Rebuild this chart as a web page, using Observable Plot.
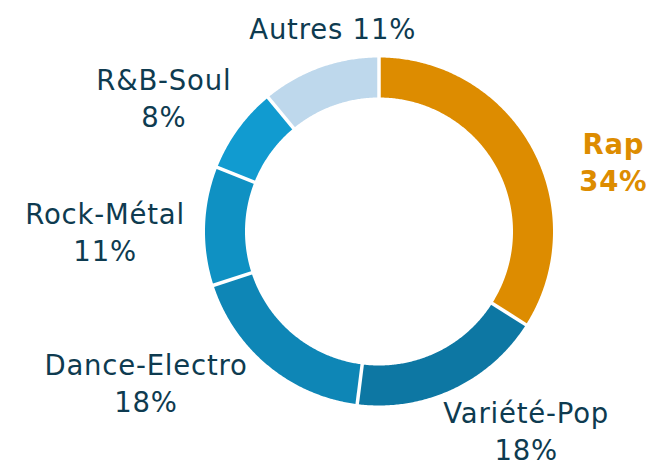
<!DOCTYPE html>
<html>
<head>
<meta charset="utf-8">
<script src="https://cdn.jsdelivr.net/npm/d3@7"></script>
<script src="https://cdn.jsdelivr.net/npm/@observablehq/plot@0.6"></script>
<style>
  html, body { margin: 0; padding: 0; background: #fff; }
  #chart svg { display: block; }
  #chart svg text { letter-spacing: 0.8px; }
</style>
</head>
<body>
<div id="chart"></div>
<script>
// ---- Data ----
const categories = ["Rap", "Variété-Pop", "Dance-Electro", "Rock-Métal", "R&B-Soul", "Autres"];
const shares = [34, 18, 18, 11, 8, 11];
const percentLabels = ["34%", "18%", "18%", "11%", "8%", "11%"];
const colors = ["#DD8C00", "#0D77A3", "#0E86B6", "#0F91C3", "#119BD0", "#BED8EC"];

// ---- Layout (pixels) ----
const W = 646, H = 465;
const cx = 378.5, cy = 231;
const rOut = 174, rIn = 134;
const rMid = (rOut + rIn) / 2;
const labelR = 240;
// per-label nudges from the mid-angle anchor point (x right, y down, px)
const labelNudge = {
  "Rap": [24, 45],
  "Variété-Pop": [45, -19],
  "Dance-Electro": [-80, -35],
  "Rock-Métal": [-34, 7],
  "R&B-Soul": [-21, 6],
  "Autres": [35, 22]
};

const total = d3.sum(shares);
const rad = Math.PI / 180;
let acc = 0;
const slices = categories.map((c, i) => {
  const a0 = acc / total * 360;
  acc += shares[i];
  const a1 = acc / total * 360;
  return {cat: c, share: shares[i], pct: percentLabels[i], a0, a1, mid: (a0 + a1) / 2};
});

// polar helper: angle clockwise from top, radius in px -> data units (y up)
const px = (a, r) => r * Math.sin(a * rad);
const py = (a, r) => r * Math.cos(a * rad);

// arc path samples for each slice
const arcPts = slices.flatMap(s => {
  const n = Math.max(2, Math.ceil((s.a1 - s.a0) / 0.5));
  return d3.range(n + 1).map(k => {
    const a = s.a0 + (s.a1 - s.a0) * k / n;
    return {cat: s.cat, x: px(a, rMid), y: py(a, rMid)};
  });
});

// white separators at slice boundaries
const seps = slices.map(s => ({
  x1: px(s.a0, rIn - 4), y1: py(s.a0, rIn - 4),
  x2: px(s.a0, rOut + 4), y2: py(s.a0, rOut + 4)
}));

const labels = slices.map(s => {
  const [dx, dy] = labelNudge[s.cat];
  const single = s.cat === "Autres";
  return {
    cat: s.cat,
    text: single ? `${s.cat} ${s.pct}` : `${s.cat}\n${s.pct}`,
    x: px(s.mid, labelR) + dx,
    y: py(s.mid, labelR) - dy
  };
});

const font = "'DejaVu Sans', sans-serif";
const chart = Plot.plot({
  width: W,
  height: H,
  margin: 0,
  x: {domain: [-cx, W - cx], axis: null},
  y: {domain: [-(H - cy), cy], axis: null},
  color: {domain: categories, range: colors},
  marks: [
    Plot.line(arcPts, {
      x: "x", y: "y", z: "cat", stroke: "cat",
      strokeWidth: rOut - rIn, strokeLinecap: "butt", strokeLinejoin: "round"
    }),
    Plot.link(seps, {
      x1: "x1", y1: "y1", x2: "x2", y2: "y2",
      stroke: "white", strokeWidth: 3.5, strokeLinecap: "butt"
    }),
    Plot.text(labels.filter(d => d.cat !== "Rap"), {
      x: "x", y: "y", text: "text",
      fill: "#0E3B50", fontSize: 27.5, lineHeight: 1.34,
      fontFamily: font, fontWeight: 400
    }),
    Plot.text(labels.filter(d => d.cat === "Rap"), {
      x: "x", y: "y", text: "text",
      fill: "#DD8C00", fontSize: 27.5, lineHeight: 1.34,
      fontFamily: font, fontWeight: 700
    })
  ]
});
document.getElementById("chart").appendChild(chart);
</script>
</body>
</html>
